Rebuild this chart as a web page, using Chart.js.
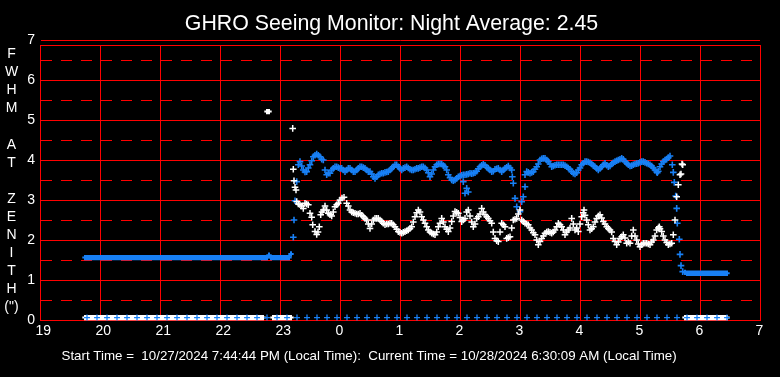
<!DOCTYPE html>
<html><head><meta charset="utf-8">
<script src="https://cdn.jsdelivr.net/npm/chart.js@4/dist/chart.umd.min.js"></script>
<style>html,body{margin:0;padding:0;background:#000;overflow:hidden}#wrap{width:780px;height:377px;position:relative}</style>
</head><body><div id="wrap"><canvas id="c" width="780" height="377"></canvas></div>
<script>
// ---------- texts ----------
const titleText = 'GHRO Seeing Monitor: Night Average: 2.45';
const footerText = 'Start Time =  10/27/2024 7:44:44 PM (Local Time):  Current Time = 10/28/2024 6:30:09 AM (Local Time)';
const yTitleLines = ['F','W','H','M','','A','T','','Z','E','N','I','T','H','(")'];

// ---------- axes (x in minutes after 19:00) ----------
const xTickMinutes = [0,60,120,180,240,300,360,420,480,540,600,660,720];
const xTickLabels = ['19','20','21','22','23','0','1','2','3','4','5','6','7'];
const yTickValues = [0,0.5,1,1.5,2,2.5,3,3.5,4,4.5,5,5.5,6,6.5,7];
const yTickLabels = ['0','','1','','2','','3','','4','','5','','6','','7'];

// ---------- evening segment, sampled every 2 min from 19:45 ----------
const eveningStart = 45, eveningStep = 2;
const blueEvening = [
1.56,1.56,1.56,1.56,1.56,1.56,1.56,1.56,1.56,1.56,
1.56,1.56,1.56,1.56,1.56,1.56,1.56,1.56,1.56,1.56,
1.56,1.56,1.56,1.56,1.56,1.56,1.56,1.56,1.56,1.56,
1.56,1.56,1.56,1.56,1.56,1.56,1.56,1.56,1.56,1.56,
1.56,1.56,1.56,1.56,1.56,1.56,1.56,1.56,1.56,1.56,
1.56,1.56,1.56,1.56,1.56,1.56,1.56,1.56,1.56,1.56,
1.56,1.56,1.56,1.56,1.56,1.56,1.56,1.56,1.56,1.56,
1.56,1.56,1.56,1.56,1.56,1.56,1.56,1.56,1.56,1.56,
1.56,1.56,1.56,1.56,1.56,1.56,1.56,1.56,1.56,1.56,
1.56,1.56,1.62,1.56,1.56,1.56,1.56,1.56,1.56,1.56,
1.56,1.56,1.56,1.65];
const whiteEvening = [
0.06,0.06,0.06,0.06,0.06,0.06,0.06,0.06,0.06,0.06,
0.06,0.06,0.06,0.06,0.06,0.06,0.06,0.06,0.06,0.06,
0.06,0.06,0.06,0.06,0.06,0.06,0.06,0.06,0.06,0.06,
0.06,0.06,0.06,0.06,0.06,0.06,0.06,0.06,0.06,0.06,
0.06,0.06,0.06,0.06,0.06,0.06,0.06,0.06,0.06,0.06,
0.06,0.06,0.06,0.06,0.06,0.06,0.06,0.06,0.06,0.06,
0.06,0.06,0.06,0.06,0.06,0.06,0.06,0.06,0.06,0.06,
0.06,0.06,0.06,0.06,0.06,0.06,0.06,0.06,0.06,0.06,
0.06,0.06,0.06,0.06,0.06,0.06,0.06,0.06,0.06,0.06,
null,5.21,5.21,null,0.06,0.06,0.06,0.06,0.06,0.06,
0.06,0.06,0.06,0.06];

// ---------- morning segment, sampled every 2 min from 5:45 ----------
const morningStart = 645, morningStep = 2;
const blueMorning = [1.19,1.17,1.17,1.17,1.17,1.17,1.17,1.17,1.17,1.17,1.17,1.17,1.17,1.17,1.17,1.17,1.17,1.17,1.17,1.17,1.17,1.17];
const whiteMorning = [0.06,0.06,0.06,0.06,0.06,0.06,0.06,0.06,0.06,0.06,0.06,0.06,0.06,0.06,0.06,0.06,0.06,0.06,0.06,0.06,0.06,0.06];

// ---------- blue readings at zero, every 10 min from 19:47 ----------
const baselineStart = 47, baselineStep = 10;
const blueBaseline = [
0.06,0.06,0.06,0.06,0.06,0.06,0.06,0.06,0.06,0.06,
0.06,0.06,0.06,0.06,0.06,0.06,0.06,0.06,0.06,0.06,
0.06,0.06,0.06,0.06,0.06,0.06,0.06,0.06,0.06,0.06,
0.06,0.06,0.06,0.06,0.06,0.06,0.06,0.06,0.06,0.06,
0.06,0.06,0.06,0.06,0.06,0.06,0.06,0.06,0.06,0.06,
0.06,0.06,0.06,0.06,0.06,0.06,0.06,0.06,0.06,0.06,
0.06,0.06,0.06,0.06,0.06];

// ---------- night readings [minute after 19:00, value] ----------
const blueNight = [
[253.3,2.07],[254,2.5],[255,2.98],[256.7,3.46],[258.3,3.88],[260,3.96],[261.7,3.85],[263.3,3.75],[265,3.7],[266.7,3.71],
[268.3,3.8],[270,3.88],[271.7,3.98],[273.3,4.08],[275,4.12],[276.7,4.15],[278.3,4.12],[280,4.08],[281.7,4.02],[283.3,4.0],
[285,3.75],[286.7,3.63],[288.3,3.67],[290,3.67],[291.7,3.75],[293.3,3.79],[295,3.83],[296.7,3.83],[298.3,3.81],[300,3.79],
[301.7,3.79],[303.3,3.75],[305,3.71],[306.7,3.75],[308.3,3.79],[310,3.79],[311.7,3.75],[313.3,3.71],[315,3.71],[316.7,3.75],
[318.3,3.79],[320,3.83],[321.7,3.83],[323.3,3.81],[325,3.79],[326.7,3.75],[328.3,3.71],[330,3.71],[331.7,3.65],[333.3,3.58],
[335,3.54],[336.7,3.58],[338.3,3.63],[340,3.65],[341.7,3.67],[343.3,3.67],[345,3.69],[346.7,3.7],[348.3,3.71],[350,3.75],
[351.7,3.79],[353.3,3.83],[355,3.88],[356.7,3.88],[358.3,3.83],[360,3.79],[361.7,3.75],[363.3,3.79],[365,3.81],[366.7,3.83],
[368.3,3.8],[370,3.77],[371.7,3.75],[373.3,3.75],[375,3.77],[376.7,3.79],[378.3,3.79],[380,3.81],[381.7,3.83],[383.3,3.83],
[385,3.8],[386.7,3.75],[388.3,3.68],[390,3.58],[391.7,3.65],[393.3,3.75],[395,3.83],[396.7,3.88],[398.3,3.9],[400,3.9],
[401.7,3.9],[403.3,3.86],[405,3.83],[406.7,3.75],[408.3,3.63],[410,3.56],[411.7,3.5],[413.3,3.48],[415,3.5],[416.7,3.54],
[418.3,3.58],[420,3.6],[421.7,3.62],[423.3,3.63],[423.3,3.46],[425,3.17],[426.7,3.29],[428.3,3.2],[425,3.63],[426.7,3.64],
[428.3,3.65],[430,3.67],[431.7,3.66],[433.3,3.67],[435,3.68],[436.7,3.72],[438.3,3.78],[440,3.83],[441.7,3.87],[443.3,3.89],
[445,3.87],[446.7,3.82],[448.3,3.79],[450,3.75],[451.7,3.71],[453.3,3.72],[455,3.77],[456.7,3.78],[458.3,3.79],[460,3.75],
[461.7,3.71],[463.3,3.75],[465,3.79],[466.7,3.82],[468.3,3.85],[470,3.8],[471.7,3.75],[472.3,3.58],[473.3,3.42],[475,3.04],
[476.7,2.83],[480,2.71],[481.7,2.96],[483.3,3.08],[485,3.33],[485,3.63],[486.7,3.71],[488.3,3.69],[490,3.67],[491.7,3.69],
[493.3,3.71],[495,3.77],[496.7,3.83],[498.3,3.9],[500,4.0],[501.7,4.03],[503.3,4.04],[505,4.04],[506.7,4.0],[508.3,3.96],
[510,3.9],[511.7,3.83],[513.3,3.85],[515,3.87],[516.7,3.88],[518.3,3.88],[520,3.88],[521.7,3.88],[523.3,3.88],[525,3.86],
[526.7,3.83],[528.3,3.8],[530,3.77],[531.7,3.71],[533.3,3.67],[535,3.65],[536.7,3.68],[538.3,3.75],[540,3.8],[541.7,3.88],
[543.3,3.92],[545,3.96],[546.7,3.96],[548.3,3.95],[550,3.93],[551.7,3.9],[553.3,3.86],[555,3.83],[556.7,3.79],[558.3,3.75],
[560,3.79],[561.7,3.83],[563.3,3.88],[565,3.92],[566.7,3.87],[568.3,3.83],[570,3.85],[571.7,3.9],[573.3,3.93],[575,3.96],
[576.7,3.98],[578.3,4.0],[580,4.02],[581.7,4.04],[583.3,4.02],[585,3.96],[586.7,3.92],[588.3,3.88],[590,3.85],[591.7,3.86],
[593.3,3.88],[595,3.9],[596.7,3.91],[598.3,3.92],[600,3.94],[601.7,3.96],[603.3,3.96],[605,3.94],[606.7,3.92],[608.3,3.9],
[610,3.88],[611.7,3.85],[613.3,3.8],[615,3.75],[616.7,3.7],[617.3,3.68],[618.3,3.72],[620,3.83],[621.7,3.9],[623.3,3.96],
[625,4.0],[626.7,4.02],[628.3,4.06],[630,4.1],[632.3,3.88],[633.3,3.69],[634.3,3.44],[635.7,3.1],[636.7,2.79],[637.3,2.42],
[639.3,2.02],[640,1.64],[641,1.36],[642.7,1.21]];

const whiteNight = [
[252.7,4.79],[253.3,3.77],[254,3.48],[255,3.32],[256,3.25],[256.7,2.96],[258.3,2.9],[260,2.88],[261.7,2.85],[263.3,2.79],
[265,2.92],[266.7,2.9],[268.3,2.88],[270,2.67],[271.7,2.57],[272.7,2.38],[275,2.21],[276.7,2.14],[278,2.2],[279.3,2.33],
[280.7,2.63],[282,2.7],[283.3,2.75],[285,2.85],[286.7,2.75],[288.3,2.67],[290,2.63],[291.7,2.6],[293.3,2.7],[295,2.83],
[296.7,2.88],[298.3,2.92],[300,3.0],[302,3.05],[304,3.07],[306.7,2.92],[308.3,2.85],[310,2.75],[311.7,2.7],[313.3,2.68],
[315,2.67],[316.7,2.65],[318.3,2.65],[320,2.67],[321.7,2.62],[323.3,2.58],[325,2.54],[326.7,2.5],[328.3,2.4],[330,2.29],
[331.7,2.4],[333.3,2.5],[335,2.54],[336.7,2.54],[338.3,2.54],[340,2.5],[341.7,2.46],[343.3,2.42],[345,2.38],[346.7,2.4],
[348.3,2.4],[350,2.42],[351.7,2.42],[353.3,2.38],[355,2.33],[356.7,2.27],[358.3,2.21],[360,2.19],[361.7,2.17],[363.3,2.19],
[365,2.21],[366.7,2.23],[368.3,2.25],[370,2.29],[371.7,2.33],[373.3,2.45],[375,2.58],[376.7,2.68],[378.3,2.75],[380,2.7],
[381.7,2.58],[383.3,2.5],[385,2.42],[386.7,2.33],[388.3,2.25],[390,2.2],[391.7,2.17],[393.3,2.15],[395,2.13],[396.7,2.2],
[398.3,2.33],[400,2.42],[401.7,2.54],[403.3,2.45],[405,2.33],[406.7,2.27],[408.3,2.21],[410,2.3],[411.7,2.46],[413.3,2.6],
[415,2.71],[416.7,2.69],[418.3,2.67],[420,2.56],[421.7,2.46],[423.3,2.5],[425,2.54],[426.7,2.7],[428.3,2.75],[430,2.6],
[431.7,2.45],[433.3,2.33],[435,2.4],[436.7,2.54],[438.3,2.58],[440,2.65],[441.7,2.79],[443.3,2.7],[445,2.63],[446.7,2.58],
[448.3,2.54],[450,2.48],[451.7,2.42],[453.3,2.2],[455,2.04],[456.7,1.98],[458.3,1.96],[460,2.2],[461.7,2.42],[463.3,2.38],
[465,2.33],[466.7,2.04],[468.3,2.06],[470,2.08],[471.7,2.3],[473.3,2.5],[475,2.52],[476.7,2.54],[478.3,2.65],[480,2.75],
[481.7,2.5],[483.3,2.46],[485,2.42],[486.7,2.4],[488.3,2.38],[490,2.3],[491.7,2.25],[493.3,2.18],[495,2.13],[496.7,2.0],
[498.3,1.88],[500,1.96],[501.7,2.04],[503.3,2.1],[505,2.17],[506.7,2.2],[508.3,2.21],[510,2.19],[511.7,2.17],[513.3,2.2],
[515,2.25],[516.7,2.33],[518.3,2.42],[520,2.38],[521.7,2.33],[523.3,2.25],[525,2.13],[526.7,2.2],[528.3,2.25],[530,2.3],
[531.7,2.54],[533.3,2.4],[535,2.25],[536.7,2.3],[538.3,2.21],[540,2.4],[541.7,2.58],[543.3,2.68],[544,2.75],[545,2.62],
[546.7,2.5],[548.3,2.38],[550,2.25],[551.7,2.28],[553.3,2.33],[555,2.45],[556.7,2.54],[558.3,2.6],[560,2.63],[561.7,2.55],
[563.3,2.46],[565,2.4],[566.7,2.33],[568.3,2.29],[570,2.25],[571.7,2.2],[573.3,2.04],[575,1.96],[576.7,1.88],[578.3,1.95],
[580,2.04],[581.7,2.08],[583.3,2.13],[585,2.05],[586.7,1.92],[588.3,1.95],[590,1.92],[591.7,2.1],[593.3,2.25],[595,2.1],
[596.7,2.0],[598.3,1.9],[600,1.83],[601.7,1.88],[603.3,1.92],[605,1.92],[606.7,1.92],[608.3,1.9],[610,1.88],[611.7,1.95],
[613.3,2.0],[615,2.1],[616.7,2.25],[618.3,2.3],[619.3,2.33],[620,2.28],[621.7,2.21],[623.3,2.1],[625,2.0],[626.7,1.94],
[628.3,1.88],[630,1.9],[631.7,1.92],[633.3,2.13],[635,2.5],[636.7,3.08],[638.3,3.38],[640,3.63],[641,3.65],[642,3.9],
[642.7,3.88]];

// ---------- styling ----------
const BLUE = 'rgb(24,128,245)';
const WHITE = '#ffffff';
const RED = '#ff0000';
const FONT = "'Liberation Sans', Arial, sans-serif";

function regular(start, step, values) {
  const out = [];
  values.forEach((v, i) => { if (v !== null) out.push({x: start + i * step, y: v}); });
  return out;
}
function fromPairs(list) { return list.map(p => ({x: p[0], y: p[1]})); }

function crossSet(data, color, width, radius) {
  return {data, showLine: false, pointStyle: 'cross', pointRadius: radius, pointHoverRadius: radius,
          borderColor: color, backgroundColor: color, pointBorderWidth: width, borderWidth: width, clip: false};
}

const decor = {
  id: 'decor',
  beforeDatasetsDraw(chart) {
    const {ctx, chartArea} = chart;
    ctx.save();
    ctx.strokeStyle = RED; ctx.lineWidth = 1;
    ctx.beginPath();
    ctx.moveTo(chartArea.left, chartArea.top + 0.5);
    ctx.lineTo(chartArea.right + 1, chartArea.top + 0.5);
    ctx.stroke();
    ctx.restore();
  },
  afterDraw(chart) {
    const {ctx} = chart;
    ctx.save();
    ctx.fillStyle = WHITE;
    ctx.textBaseline = 'alphabetic';
    ctx.font = '21.33px ' + FONT;
    ctx.textAlign = 'center';
    ctx.fillText(titleText, 391.5, 29.5);
    ctx.font = '13.33px ' + FONT;
    ctx.textAlign = 'left';
    ctx.fillText(footerText, 61.5, 359.5);
    ctx.font = '14px ' + FONT;
    ctx.textAlign = 'center';
    yTitleLines.forEach((s, i) => { if (s) ctx.fillText(s, 11.5, 58.3 + i * 18.05); });
    ctx.restore();
  }
};

new Chart(document.getElementById('c'), {
  type: 'scatter',
  data: {datasets: [
    crossSet(regular(baselineStart, baselineStep, blueBaseline), BLUE, 1.3, 3),
    crossSet(fromPairs(whiteNight), WHITE, 1.5, 3.3),
    crossSet(fromPairs(blueNight), BLUE, 1.6, 3.3),
    crossSet(regular(eveningStart, eveningStep, whiteEvening), WHITE, 2, 2.7),
    crossSet(regular(morningStart, morningStep, whiteMorning), WHITE, 2, 2.7),
    crossSet(regular(eveningStart, eveningStep, blueEvening), BLUE, 2, 2.7),
    crossSet(regular(morningStart, morningStep, blueMorning), BLUE, 2, 2.7)
  ]},
  options: {
    responsive: false, animation: false, devicePixelRatio: 1,
    layout: {padding: {top: 45, right: 20, bottom: 0, left: 0}},
    plugins: {legend: {display: false}, tooltip: {enabled: false}, title: {display: false}},
    scales: {
      x: {
        type: 'linear', min: 0, max: 720,
        afterBuildTicks: s => { s.ticks = xTickMinutes.map(v => ({value: v})); },
        afterFit: s => { s.height = 57; s.paddingLeft = 0; s.paddingRight = 0; },
        ticks: {color: WHITE, font: {family: FONT, size: 14}, align: 'start', labelOffset: -4.5,
                padding: 3, maxRotation: 0, autoSkip: false,
                callback: (v, i) => xTickLabels[i]},
        grid: {color: RED, lineWidth: 1, drawTicks: false},
        border: {color: RED, width: 1}
      },
      y: {
        type: 'linear', min: 0, max: 6.875,
        // tiny downward nudge keeps floating-point rounding from splitting a grid line over two pixel rows
        afterBuildTicks: s => { s.ticks = yTickValues.map(v => ({value: v - 1e-9})); },
        afterFit: s => { s.width = 40; s.paddingTop = 0; s.paddingBottom = 0; },
        ticks: {color: WHITE, font: {family: FONT, size: 14}, padding: 5, autoSkip: false,
                callback: (v, i) => yTickLabels[i]},
        grid: {color: RED, lineWidth: 1, drawTicks: false},
        border: {color: RED, width: 1,
                 dash: c => (c.tick && c.index % 2 === 1) ? [11, 9] : []}
      }
    }
  },
  plugins: [decor]
});
</script>
</body></html>
